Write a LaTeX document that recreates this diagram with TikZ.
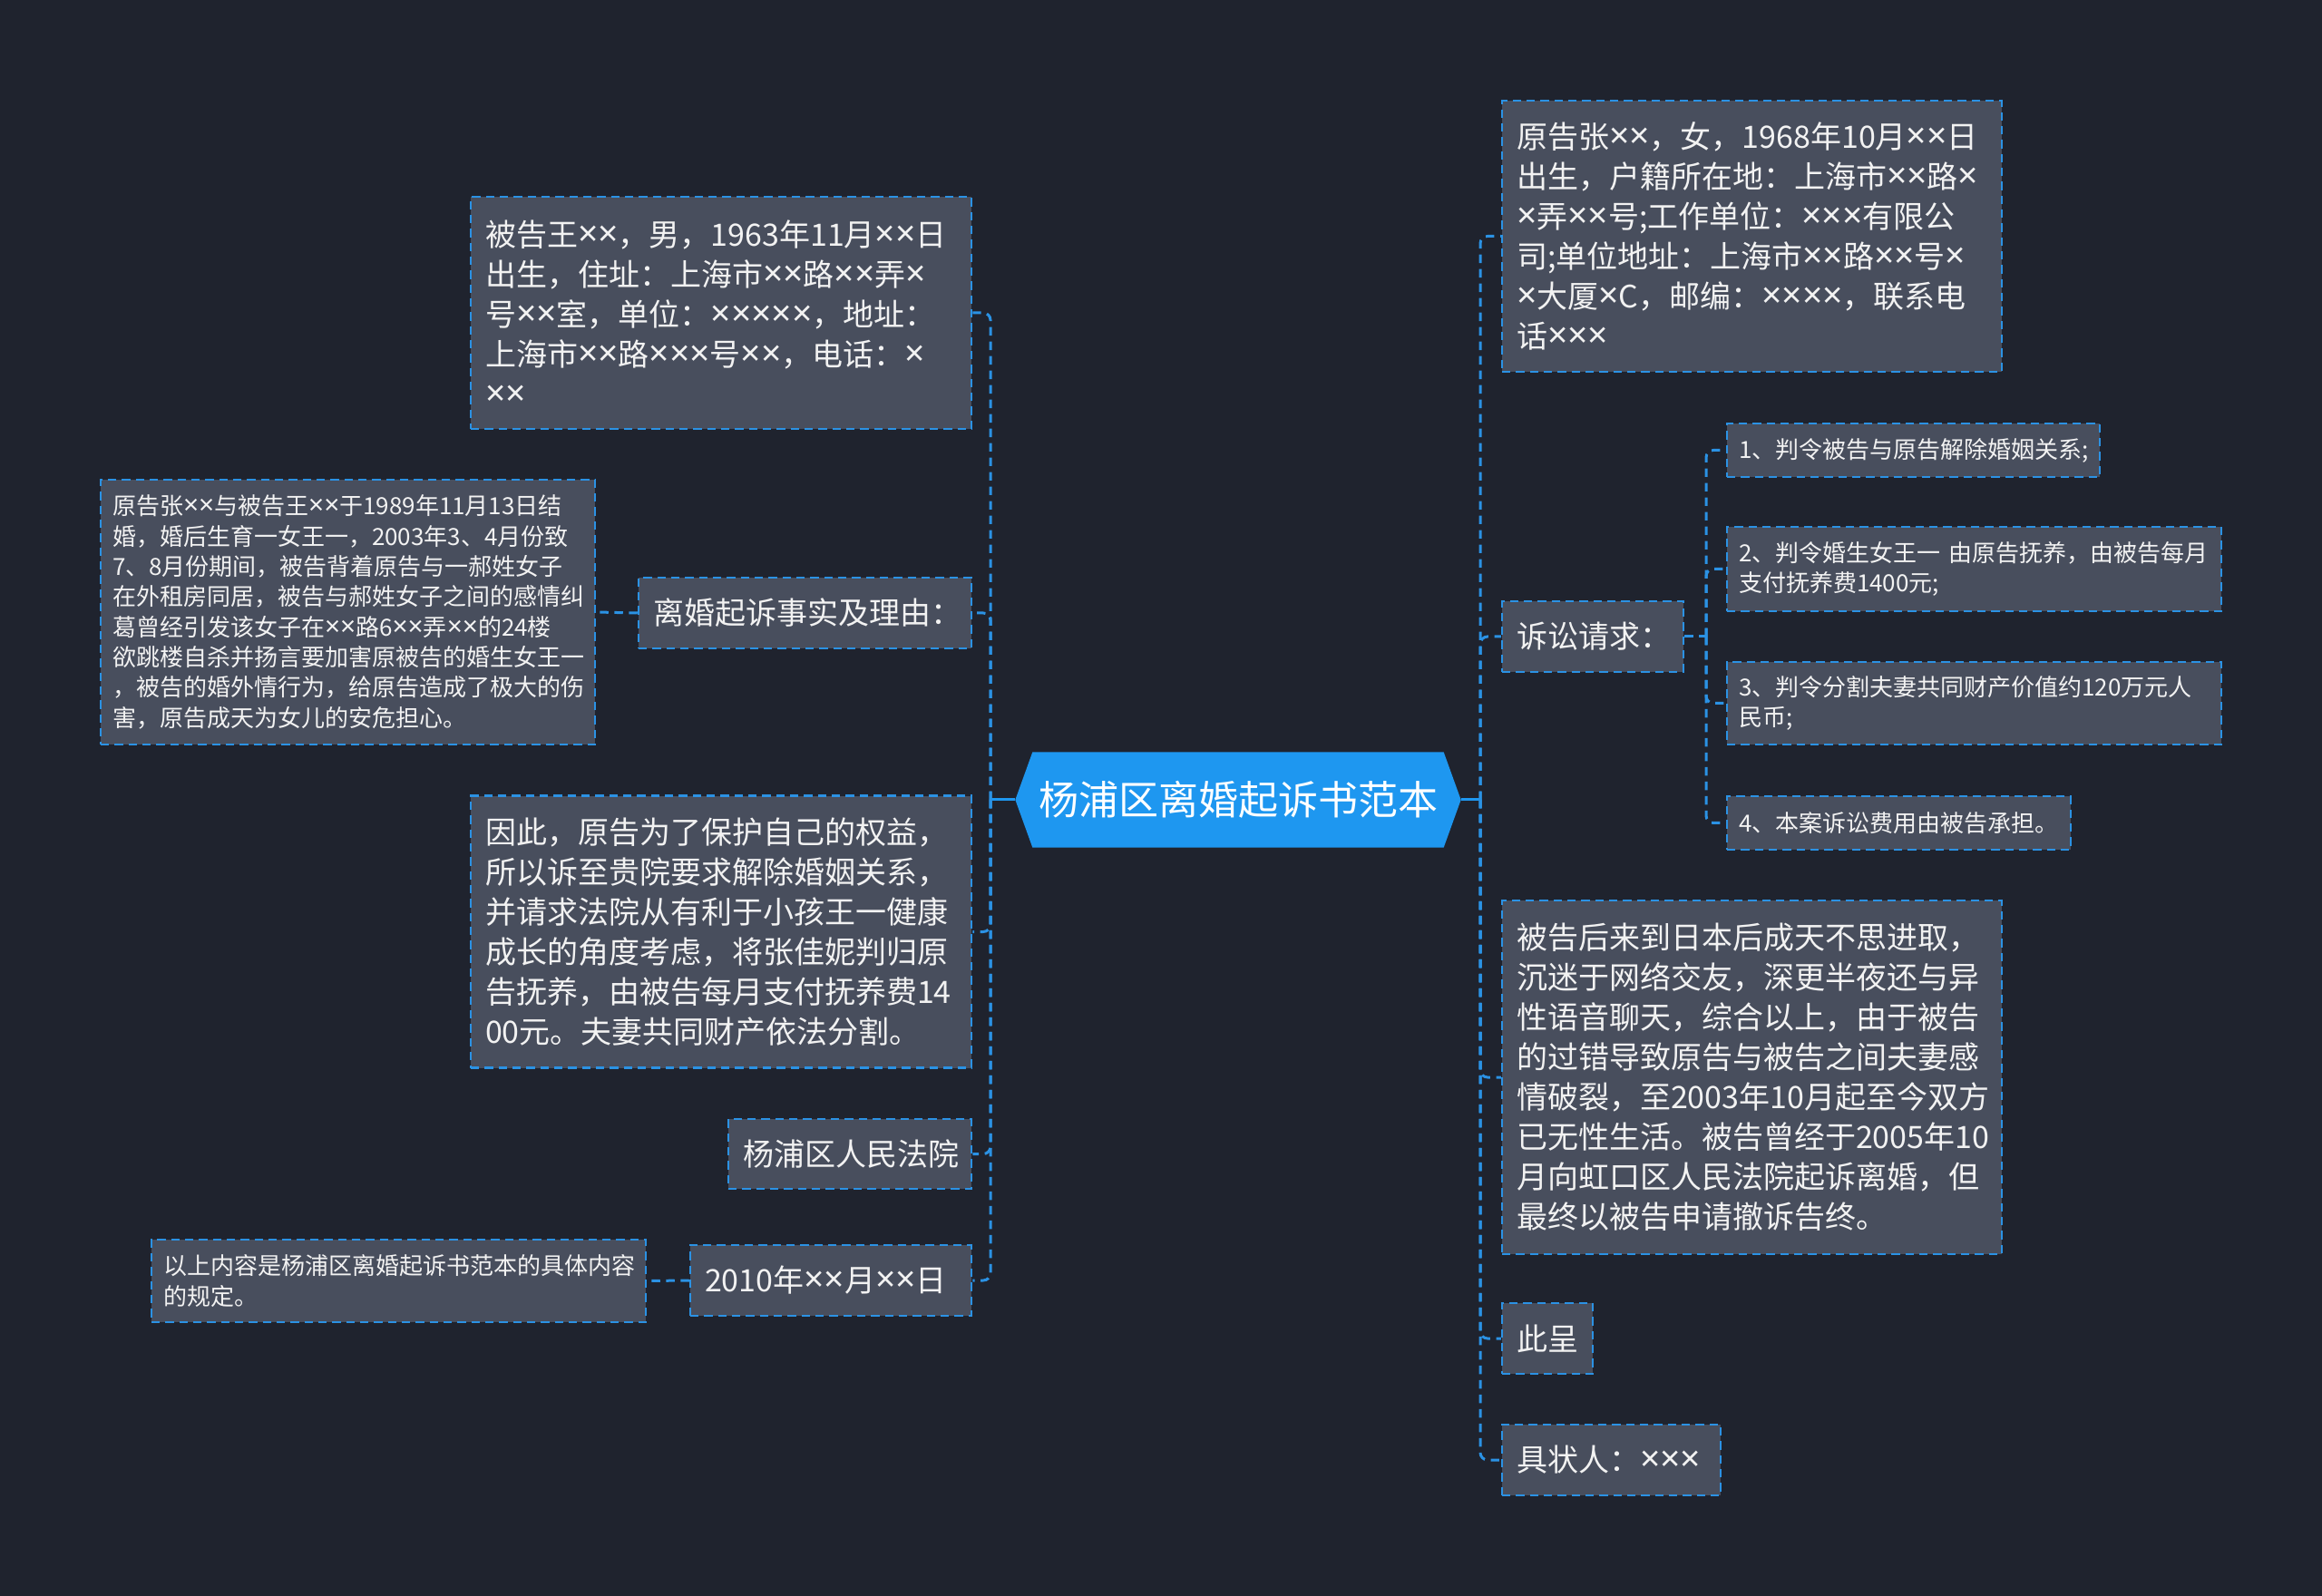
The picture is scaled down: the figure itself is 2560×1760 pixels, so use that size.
\documentclass[tikz,border=0pt]{standalone}
\usepackage{fontspec}
\setmainfont{Noto Sans CJK SC}
\newfontfamily\latinf[Scale=1.15]{Noto Sans}
\newcommand{\X}{{\latinf ×}}
\usetikzlibrary{backgrounds}
\definecolor{bgcol}{RGB}{31,35,46}
\definecolor{boxcol}{RGB}{72,78,93}
\definecolor{bordercol}{RGB}{43,146,228}
\definecolor{rootcol}{RGB}{30,151,240}
\definecolor{txtcol}{RGB}{242,242,242}
\tikzset{
  box/.style={draw=bordercol, fill=boxcol, line width=0.75pt, dash pattern=on 2.8pt off 1.8pt,
    text=txtcol, inner xsep=4.8pt, inner ysep=0pt, align=left, anchor=center,
    font=\fontsize{10.2pt}{13.2pt}\selectfont},
  smallbox/.style={box, inner xsep=3.9pt, font=\fontsize{7.8pt}{10pt}\selectfont},
  conn/.style={draw=bordercol, line width=0.9pt, dash pattern=on 2.8pt off 2pt, rounded corners=2.4pt},
  rootconn/.style={draw=rootcol, line width=0.9pt},
}
\begin{document}
\begin{tikzpicture}[x=0.3pt,y=-0.3pt]
\useasboundingbox (0,0) rectangle (2560,1760);
% root
\node[minimum width=147pt, minimum height=31.2pt, inner sep=0pt, text=white,
  font=\fontsize{13.2pt}{15pt}\selectfont] (root) at (1365,882) {杨浦区离婚起诉书范本};
\begin{scope}[on background layer]
\fill[bgcol] (0,0) rectangle (2560,1760);
\fill[rootcol] (root.west) -- ([xshift=5.7pt]root.north west) -- ([xshift=-5.7pt]root.north east)
  -- (root.east) -- ([xshift=-5.7pt]root.south east) -- ([xshift=5.7pt]root.south west) -- cycle;
\end{scope}
% left nodes
\node[box, minimum width=165.6pt, minimum height=76.8pt, text width=156pt] (L1) at (795,345)
 {被告王\X{}\X{}，男，1963年11月\X{}\X{}日\\出生，住址：上海市\X{}\X{}路\X{}\X{}弄\X{}\\号\X{}\X{}室，单位：\X{}\X{}\X{}\X{}\X{}，地址：\\上海市\X{}\X{}路\X{}\X{}\X{}号\X{}\X{}，电话：\X{}\\\X{}\X{}};
\node[box, minimum width=110.1pt, minimum height=23.4pt, text width=100.5pt] (L2) at (887.5,676)
 {离婚起诉事实及理由：};
\node[smallbox, minimum width=163.5pt, minimum height=87.6pt, text width=155.7pt] (L2a) at (383.5,675)
 {原告张\X{}\X{}与被告王\X{}\X{}于1989年11月13日结\\婚，婚后生育一女王一，2003年3、4月份致\\7、8月份期间，被告背着原告与一郝姓女子\\在外租房同居，被告与郝姓女子之间的感情纠\\葛曾经引发该女子在\X{}\X{}路6\X{}\X{}弄\X{}\X{}的24楼\\欲跳楼自杀并扬言要加害原被告的婚生女王一\\，被告的婚外情行为，给原告造成了极大的伤\\害，原告成天为女儿的安危担心。};
\node[box, minimum width=165.6pt, minimum height=90pt, text width=156pt] (L3) at (795,1027.5)
 {因此，原告为了保护自己的权益，\\所以诉至贵院要求解除婚姻关系，\\并请求法院从有利于小孩王一健康\\成长的角度考虑，将张佳妮判归原\\告抚养，由被告每月支付抚养费14\\00元。夫妻共同财产依法分割。};
\node[box, minimum width=80.4pt, minimum height=23.1pt, text width=70.8pt] (L4) at (937,1272.5)
 {杨浦区人民法院};
\node[box, minimum width=93pt, minimum height=23.4pt, text width=83.4pt] (L5) at (916,1412)
 {2010年\X{}\X{}月\X{}\X{}日};
\node[smallbox, minimum width=163.5pt, minimum height=27.3pt, text width=155.7pt] (L5a) at (439.5,1412.5)
 {以上内容是杨浦区离婚起诉书范本的具体内容\\的规定。};
% right nodes
\node[box, minimum width=165.3pt, minimum height=89.7pt, text width=155.7pt] (R1) at (1931.5,260.5)
 {原告张\X{}\X{}，女，1968年10月\X{}\X{}日\\出生，户籍所在地：上海市\X{}\X{}路\X{}\\\X{}弄\X{}\X{}号;工作单位：\X{}\X{}\X{}有限公\\司;单位地址：上海市\X{}\X{}路\X{}\X{}号\X{}\\\X{}大厦\X{}C，邮编：\X{}\X{}\X{}\X{}，联系电\\话\X{}\X{}\X{}};
\node[box, minimum width=60pt, minimum height=23.4pt, text width=50.4pt] (R2) at (1756,702)
 {诉讼请求：};
\node[smallbox, minimum width=123.3pt, minimum height=17.7pt, text width=115.5pt] (C1) at (2109.5,496.5)
 {1、判令被告与原告解除婚姻关系;};
\node[smallbox, minimum width=163.5pt, minimum height=27.9pt, text width=155.7pt] (C2) at (2176.5,627.5)
 {2、判令婚生女王一 由原告抚养，由被告每月\\支付抚养费1400元;};
\node[smallbox, minimum width=163.5pt, minimum height=27.3pt, text width=155.7pt] (C3) at (2176.5,775.5)
 {3、判令分割夫妻共同财产价值约120万元人\\民币;};
\node[smallbox, minimum width=113.7pt, minimum height=17.7pt, text width=105.9pt] (C4) at (2093.5,907.5)
 {4、本案诉讼费用由被告承担。};
\node[box, minimum width=165.3pt, minimum height=117pt, text width=155.7pt] (R3) at (1931.5,1188)
 {被告后来到日本后成天不思进取，\\沉迷于网络交友，深更半夜还与异\\性语音聊天，综合以上，由于被告\\的过错导致原告与被告之间夫妻感\\情破裂，至2003年10月起至今双方\\已无性生活。被告曾经于2005年10\\月向虹口区人民法院起诉离婚，但\\最终以被告申请撤诉告终。};
\node[box, minimum width=30pt, minimum height=23.4pt, text width=20.4pt] (R4) at (1706,1476)
 {此呈};
\node[box, minimum width=72.3pt, minimum height=23.4pt, text width=62.7pt] (R5) at (1776.5,1610)
 {具状人：\X{}\X{}\X{}};
% trunk points
\coordinate (lt) at (1092,882);
\coordinate (rt) at (1632,882);
\coordinate (st) at (1881,702);
\draw[rootconn] (root.west) -- (lt);
\draw[rootconn] (root.east) -- (rt);
\foreach \n in {L1,L2,L3,L4,L5} \draw[conn] (lt) |- (\n.east);
\foreach \n in {R1,R2,R3,R4,R5} \draw[conn] (rt) |- (\n.west);
\draw[conn] (R2.east) -- (st);
\foreach \n in {C1,C2,C3,C4} \draw[conn] (st) |- (\n.west);
\draw[conn] (L2.west) -- (L2a.east);
\draw[conn] (L5.west) -- (L5a.east);
\end{tikzpicture}
\end{document}
